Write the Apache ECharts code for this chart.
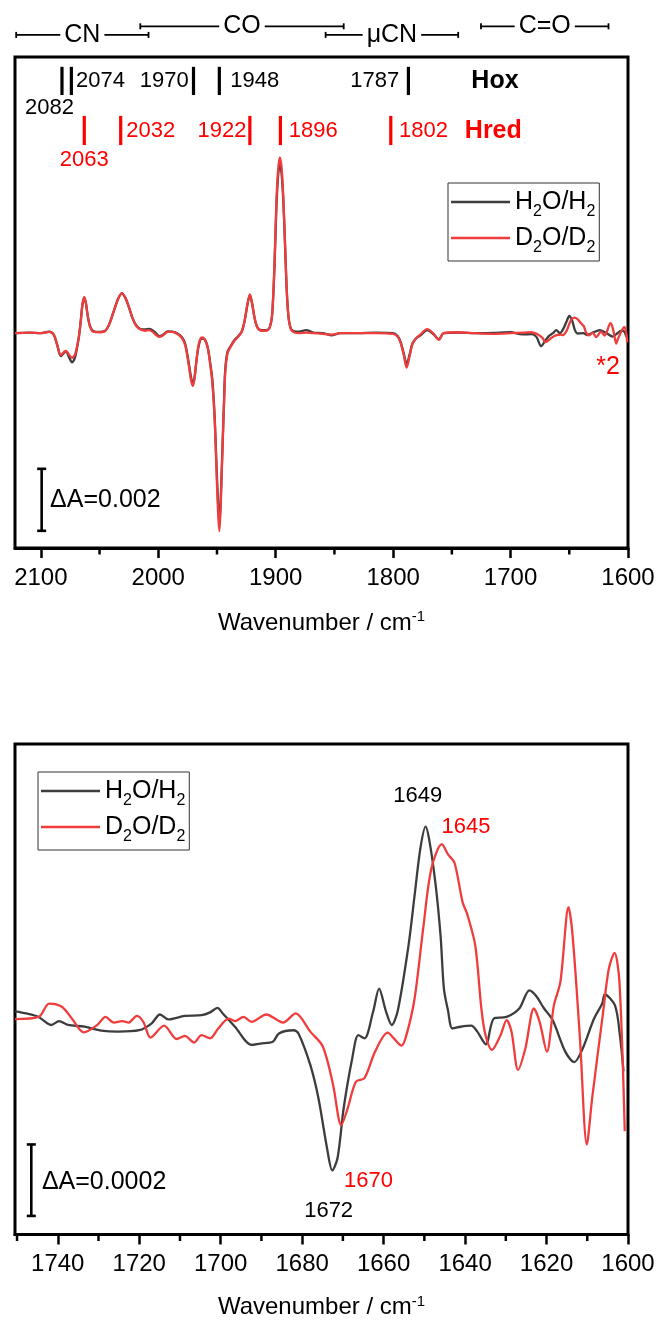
<!DOCTYPE html>
<html><head><meta charset="utf-8">
<script src="https://cdn.jsdelivr.net/npm/echarts@6/dist/echarts.min.js"></script>
<style>html,body{margin:0;padding:0;background:#fff}#c{width:659px;height:1322px}</style>
</head><body><div id="c"></div>
<script>
const FONT = '"Liberation Sans", Arial, sans-serif';
const BLACK_LINE = '#3d3d3d', RED_LINE = '#ef3d3d', RED_TEXT = '#ff0000';

// ---------- top panel data (wavenumber, ΔA in 1e-3) ----------
const topTicks = [1600, 1700, 1800, 1900, 2000, 2100];
const topMinor = [1650, 1750, 1850, 1950, 2050];
const topH2O = [[2122,0.0],[2110,0.02],[2100,0.0],[2093,0.05],[2089,-0.05],[2086,-0.4],[2083,-0.75],[2080.5,-0.65],[2078.5,-0.6],[2076,-0.78],[2073.5,-0.95],[2071,-0.8],[2069.5,-0.55],[2067.5,-0.1],[2066,0.4],[2064.5,0.95],[2063,1.16],[2061.5,0.95],[2060,0.55],[2058,0.22],[2055,0.06],[2050,0.04],[2046,0.06],[2042,0.27],[2038,0.7],[2034,1.14],[2031,1.3],[2028,1.15],[2025,0.85],[2022,0.5],[2019,0.27],[2015,0.13],[2011,0.12],[2008,0.14],[2005,0.1],[2002,0.0],[1999,-0.1],[1996,-0.05],[1992,0.06],[1988,0.05],[1984,0.0],[1980,-0.12],[1977,-0.35],[1974,-0.98],[1972,-1.45],[1970.5,-1.65],[1969,-1.4],[1967.5,-0.9],[1965.5,-0.4],[1963,-0.18],[1960.5,-0.2],[1958,-0.45],[1956,-0.9],[1954,-1.5],[1952,-2.7],[1950.5,-4.2],[1949,-5.6],[1948,-6.15],[1947,-5.6],[1945.5,-3.9],[1944,-2.2],[1943,-1.2],[1941,-0.6],[1938,-0.4],[1935,-0.22],[1932,-0.1],[1929,0.05],[1926.5,0.4],[1924,0.95],[1922,1.24],[1920,0.95],[1918,0.5],[1915.5,0.18],[1912,0.1],[1908,0.1],[1905,0.2],[1903,0.6],[1901,2.2],[1899.5,4.0],[1898,5.1],[1896.5,5.52],[1895,5.2],[1893.5,4.3],[1892,2.8],[1890.5,1.3],[1889,0.5],[1887,0.15],[1884,0.06],[1880,0.05],[1874,0.1],[1868,0.02],[1860,0.0],[1852,-0.07],[1845,0.0],[1830,0.0],[1815,0.02],[1800,0.0],[1796,-0.1],[1793.5,-0.3],[1791,-0.65],[1788.5,-1.0],[1786,-0.7],[1783.5,-0.33],[1780,-0.15],[1777,-0.08],[1771,0.1],[1766,-0.02],[1761,-0.2],[1757,0.0],[1745,0.02],[1730,0.0],[1715,0.01],[1700,0.03],[1690,-0.04],[1682,-0.03],[1678,-0.12],[1674,-0.42],[1670,-0.22],[1667,-0.08],[1664,0.0],[1661,0.1],[1658,0.0],[1655,0.15],[1652.4,0.37],[1650,0.56],[1647.5,0.4],[1645.2,0.1],[1643,-0.01],[1638,0.0],[1635,-0.06],[1630,0.02],[1624,0.1],[1619,0.02],[1613,-0.11],[1609,0.0],[1605.7,0.085],[1603,0.05],[1601,-0.13],[1600,-0.12]];
const topD2O = [[2122,0.0],[2110,0.02],[2100,0.0],[2093,0.04],[2089,-0.05],[2086,-0.38],[2083,-0.72],[2080.5,-0.62],[2078.5,-0.58],[2076,-0.7],[2073.5,-0.8],[2071,-0.7],[2069.5,-0.5],[2067.5,-0.08],[2066,0.4],[2064.5,0.95],[2063,1.18],[2061.5,0.95],[2060,0.55],[2058,0.2],[2055,0.04],[2050,0.03],[2046,0.05],[2042,0.27],[2038,0.7],[2034,1.14],[2031,1.3],[2028,1.15],[2025,0.85],[2022,0.5],[2019,0.25],[2015,0.12],[2011,0.08],[2008,0.1],[2005,0.05],[2002,-0.05],[1999,-0.12],[1996,-0.07],[1992,0.04],[1988,0.04],[1984,-0.02],[1980,-0.15],[1977,-0.4],[1974,-1.05],[1972,-1.55],[1970.5,-1.72],[1969,-1.45],[1967.5,-0.9],[1965.5,-0.35],[1963,-0.14],[1960.5,-0.2],[1958,-0.45],[1956,-0.95],[1954,-1.6],[1952,-2.8],[1950.5,-4.4],[1949,-5.9],[1948,-6.45],[1947,-5.8],[1945.5,-4.0],[1944,-2.3],[1943,-1.3],[1941,-0.65],[1938,-0.42],[1935,-0.24],[1932,-0.12],[1929,0.04],[1926.5,0.4],[1924,0.95],[1922,1.26],[1920,0.95],[1918,0.5],[1915.5,0.18],[1912,0.08],[1908,0.08],[1905,0.2],[1903,0.65],[1901,2.3],[1899.5,4.2],[1898,5.3],[1896.5,5.73],[1895,5.4],[1893.5,4.4],[1892,2.9],[1890.5,1.35],[1889,0.5],[1887,0.12],[1884,0.02],[1880,0.0],[1874,0.02],[1868,0.0],[1860,-0.02],[1852,-0.05],[1845,0.0],[1830,0.0],[1815,0.0],[1800,-0.02],[1796,-0.12],[1793.5,-0.33],[1791,-0.7],[1788.5,-1.12],[1786,-0.75],[1783.5,-0.35],[1780,-0.15],[1777,-0.05],[1771,0.13],[1766,0.0],[1761,-0.22],[1757,0.0],[1745,0.03],[1730,0.0],[1715,-0.02],[1700,0.0],[1690,0.02],[1682,0.03],[1676,-0.06],[1672.5,-0.17],[1670.4,-0.29],[1668,-0.24],[1665,-0.15],[1662,-0.08],[1657,-0.05],[1655.5,-0.06],[1652.4,0.07],[1650.3,0.27],[1648.3,0.44],[1645.7,0.51],[1643,0.46],[1640.6,0.35],[1637.5,0.22],[1636,0.05],[1633.4,-0.07],[1630,0.01],[1627,-0.13],[1623,0.05],[1620,-0.08],[1618,0.05],[1615,0.33],[1613.6,0.25],[1611.8,-0.04],[1610,-0.34],[1608.8,-0.21],[1606,0.03],[1603.3,0.2],[1602,0.12],[1600.6,-0.3]];

// ---------- bottom panel data (wavenumber, ΔA in 1e-4) ----------
const botTicks = [1600, 1620, 1640, 1660, 1680, 1700, 1720, 1740];
const botMinor = [1610, 1630, 1650, 1670, 1690, 1710, 1730, 1750];
const botH2O = [[1750.5,0.37],[1747.7,0.31],[1744.7,0.21],[1741.6,-0.02],[1739.7,0.09],[1737.5,-0.02],[1733.4,-0.07],[1729.3,-0.18],[1725.2,-0.21],[1720,-0.17],[1717,0.02],[1714.9,0.28],[1712.9,0.14],[1708.8,0.24],[1704.7,0.26],[1702.6,0.34],[1700.8,0.47],[1699.5,0.31],[1696.5,-0.07],[1692.4,-0.59],[1690.3,-0.55],[1687.2,-0.5],[1685.7,-0.26],[1682.1,-0.17],[1680.9,-0.26],[1678,-1.16],[1676,-2.11],[1673.9,-3.53],[1672.6,-4.17],[1671.3,-3.81],[1669.8,-2.39],[1667.7,-0.97],[1666.2,-0.31],[1664.7,-0.4],[1662.6,0.35],[1661.1,1.02],[1659.5,0.4],[1658,-0.02],[1656.5,0.4],[1653.9,2.24],[1652.4,3.67],[1651,5.0],[1649.7,5.64],[1648.7,5.2],[1647.2,3.95],[1646,2.5],[1645.2,1.02],[1644.2,0.4],[1643.1,-0.12],[1641.1,-0.07],[1638.5,-0.04],[1637,-0.21],[1634.9,-0.57],[1632.9,0.17],[1629.8,0.21],[1626.7,0.45],[1624.2,0.97],[1622.5,0.8],[1620.6,0.45],[1618.5,0.12],[1615.4,-0.78],[1613.2,-1.08],[1611.3,-0.74],[1608.3,0.17],[1606.3,0.6],[1605.7,0.85],[1603.2,0.54],[1602,-0.3],[1601.1,-1.34]];
const botD2O = [[1750.5,0.15],[1744.7,0.21],[1742.1,0.59],[1739,0.5],[1736.5,0.16],[1733.6,-0.23],[1730.3,-0.02],[1728.3,0.21],[1726.2,0.05],[1724.2,0.09],[1722.6,0.05],[1720.6,0.24],[1719,0.07],[1717.2,-0.38],[1713.9,-0.04],[1710.8,-0.42],[1708.8,-0.33],[1706.5,-0.52],[1704.7,-0.31],[1702.6,-0.4],[1700.6,-0.12],[1698,0.16],[1696.5,0.09],[1694.4,0.21],[1692.4,0.07],[1688.8,0.28],[1684.7,0.05],[1681.6,0.31],[1678,-0.21],[1674.9,-0.64],[1672.4,-1.73],[1670.4,-2.88],[1668.8,-2.39],[1666.8,-1.64],[1664.7,-1.54],[1662.1,-0.78],[1659,-0.24],[1657.5,-0.4],[1655.6,-0.61],[1654.4,-0.31],[1652.4,0.73],[1650.3,2.72],[1648.3,4.43],[1645.7,5.14],[1644.2,4.85],[1642.6,4.61],[1640.6,3.48],[1639.5,3.15],[1637.5,2.25],[1636,0.45],[1635,-0.3],[1633.4,-0.73],[1631.3,-0.31],[1629.8,0.12],[1628.6,-0.21],[1627,-1.3],[1625.2,-0.69],[1623.1,0.45],[1621.7,0.07],[1619.9,-0.78],[1618.2,0.54],[1616.6,1.21],[1614.6,3.34],[1613.6,2.53],[1611.8,-0.4],[1610.1,-3.43],[1608.8,-2.11],[1606.2,0.26],[1604.7,1.59],[1603.3,2.04],[1602.1,1.21],[1600.8,-3.05]];

// ---------- annotations ----------
const hoxBands = [2082, 2074, 1970, 1948, 1787];
const hredBands = [2063, 2032, 1922, 1896, 1802];
const headerBrackets = [
  {text: 'CN',  from: 2121, to: 2008.3, row: 1},
  {text: 'CO',  from: 2015.3, to: 1842.1, row: 0},
  {text: 'μCN', from: 1857.5, to: 1744.6, row: 1},
  {text: 'C=O', from: 1725.2, to: 1616.6, row: 0}
];
const topLabels = [
  ['2074', 2070, 8.22, 'left', 'k'], ['1970', 1974.1, 8.22, 'right', 'k'],
  ['1948', 1938.6, 8.22, 'left', 'k'], ['1787', 1794.9, 8.22, 'right', 'k'],
  ['2082', 2092.6, 7.33, 'center', 'k'],
  ['2032', 2027.3, 6.59, 'left', 'r'], ['1922', 1924.9, 6.59, 'right', 'r'],
  ['1896', 1888.8, 6.59, 'left', 'r'], ['1802', 1794.9, 6.59, 'left', 'r'],
  ['2063', 2063.1, 5.64, 'center', 'r']
];
const botLabels = [
  ['1649', 1651.6, 6.51, 'center', 'k'], ['1645', 1639.8, 5.62, 'center', 'r'],
  ['1670', 1663.7, -4.46, 'center', 'r'], ['1672', 1673.5, -5.33, 'center', 'k']
];

const legendFmt = n => n === 'H2O/H2' ? 'H{sub|2}O/H{sub|2}' : 'D{sub|2}O/D{sub|2}';
const legendText = {
  fontFamily: FONT, fontSize: 25, color: '#000', lineHeight: 28,
  rich: { sub: { fontFamily: FONT, fontSize: 16, lineHeight: 16, color: '#000', padding: [20, 0, 0, 0] } }
};
function legendAt(left, top) {
  return { orient: 'vertical', left, top, data: ['H2O/H2', 'D2O/D2'], icon: 'rect',
    itemWidth: 59, itemHeight: 2.6, itemGap: 0, padding: [1, 4, 5, 3],
    borderColor: '#333', borderWidth: 1, formatter: legendFmt, textStyle: legendText,
    selectedMode: false };
}
function xAxisCfg(gi, min, max, ticks, gapName) {
  return {
    gridIndex: gi, type: 'value', inverse: true, min, max,
    axisLine: { show: true, onZero: false, lineStyle: { color: '#000', width: 3 } },
    axisTick: { show: true, length: 10, customValues: ticks, lineStyle: { color: '#000', width: 2.5 } },
    minorTick: { show: false }, splitLine: { show: false },
    axisLabel: { customValues: ticks, formatter: v => String(v), fontFamily: FONT, fontSize: 24, color: '#000', margin: 18 },
    name: 'Wavenumber / cm{sup|-1}', nameLocation: 'middle', nameGap: gapName,
    nameTextStyle: { fontFamily: FONT, fontSize: 24, color: '#000',
      rich: { sup: { fontFamily: FONT, fontSize: 15, lineHeight: 15, color: '#000', padding: [0, 0, 12, 0] } } }
  };
}
const lineS = (name, gi, data, color) => ({
  name, type: 'line', xAxisIndex: gi, yAxisIndex: gi, data, symbol: 'none', showSymbol: false,
  smooth: 0.3, lineStyle: { color, width: 2.3 }, itemStyle: { color }, animation: false
});

const chart = echarts.init(document.getElementById('c'));
chart.setOption({
  animation: false,
  grid: [
    { left: 15, top: 57, width: 613, height: 491, show: true, borderColor: '#000', borderWidth: 3 },
    { left: 15, top: 744, width: 613, height: 493, show: true, borderColor: '#000', borderWidth: 3 }
  ],
  xAxis: [ xAxisCfg(0, 1600, 2122, topTicks, 63), xAxisCfg(1, 1600, 1750.5, botTicks, 61) ],
  yAxis: [
    { gridIndex: 0, type: 'value', min: -7, max: 9, show: false },
    { gridIndex: 1, type: 'value', min: -6, max: 8, show: false }
  ],
  legend: [ legendAt(448, 183), legendAt(38, 772) ],
  series: [
    lineS('H2O/H2', 0, topH2O, BLACK_LINE), lineS('D2O/D2', 0, topD2O, RED_LINE),
    lineS('H2O/H2', 1, botH2O, BLACK_LINE), lineS('D2O/D2', 1, botD2O, RED_LINE)
  ]
});

// ---------- annotation graphics (positions through the axes) ----------
const P = (g, w, v) => chart.convertToPixel({ gridIndex: g }, [w, v]);
const ctx = document.createElement('canvas').getContext('2d');
const tw = (t, s, wt) => { ctx.font = (wt || 'normal') + ' ' + s + 'px ' + FONT; return ctx.measureText(t).width; };
const G = [];
const line = (x1, y1, x2, y2, color, w) => G.push({ type: 'line', silent: true,
  shape: { x1, y1, x2, y2 }, style: { stroke: color, lineWidth: w } });
const text = (t, x, y, align, color, size, weight) => G.push({ type: 'text', silent: true, x, y,
  style: { text: t, fill: color, fontFamily: FONT, fontSize: size, fontWeight: weight || 'normal',
    align, textAlign: align, verticalAlign: 'middle', textVerticalAlign: 'middle' } });

// header brackets
headerBrackets.forEach(b => {
  const v = b.row ? 9.72 : 10.0;
  const [xl, y] = P(0, b.from, v), [xr] = P(0, b.to, v);
  const xc = (xl + xr) / 2, half = tw(b.text, 25) / 2 + 4;
  line(xl, y, xc - half, y, '#000', 1.8); line(xc + half, y, xr, y, '#000', 1.8);
  line(xl, y - 3, xl, y + 3, '#000', 1.8); line(xr, y - 3, xr, y + 3, '#000', 1.8);
  text(b.text, xc, y, 'center', '#000', 25);
});
// Hox / Hred bars
hoxBands.forEach(w => { const [x, y1] = P(0, w, 8.68), [, y2] = P(0, w, 7.76); line(x, y1, x, y2, '#000', 3.2); });
hredBands.forEach(w => { const [x, y1] = P(0, w, 7.08), [, y2] = P(0, w, 6.13); line(x, y1, x, y2, RED_TEXT, 3.2); });
let p = P(0, 1713.3, 8.22); text('Hox', p[0], p[1], 'center', '#000', 25, 'bold');
p = P(0, 1714.7, 6.59); text('Hred', p[0], p[1], 'center', RED_TEXT, 25, 'bold');
topLabels.forEach(l => { const q = P(0, l[1], l[2]); text(l[0], q[0], q[1], l[3], l[4] === 'r' ? RED_TEXT : '#000', 22); });
p = P(0, 1616.9, -1.09); text('*2', p[0], p[1], 'center', RED_TEXT, 25);
botLabels.forEach(l => { const q = P(1, l[1], l[2]); text(l[0], q[0], q[1], l[3], l[4] === 'r' ? RED_TEXT : '#000', 22); });

// scale bars
function scaleBar(g, w, v1, v2, label, lw, lv) {
  const [x, y1] = P(g, w, v1), [, y2] = P(g, w, v2);
  line(x, y1, x, y2, '#000', 2.6);
  line(x - 4.5, y1, x + 4.5, y1, '#000', 2.6); line(x - 4.5, y2, x + 4.5, y2, '#000', 2.6);
  const q = P(g, lw, lv); text(label, q[0], q[1], 'left', '#000', 25);
}
scaleBar(0, 2099.3, -4.42, -6.44, 'ΔA=0.002', 2092.1, -5.43);
scaleBar(1, 1746.5, -3.43, -5.47, 'ΔA=0.0002', 1743.9, -4.5);

// minor ticks
[[0, topMinor, -7], [1, botMinor, -6]].forEach(([g, arr, vmin]) => arr.forEach(w => {
  const [x, y] = P(g, w, vmin); line(x, y, x, y + 6.5, '#000', 2.5);
}));

chart.setOption({ graphic: G });
</script></body></html>
